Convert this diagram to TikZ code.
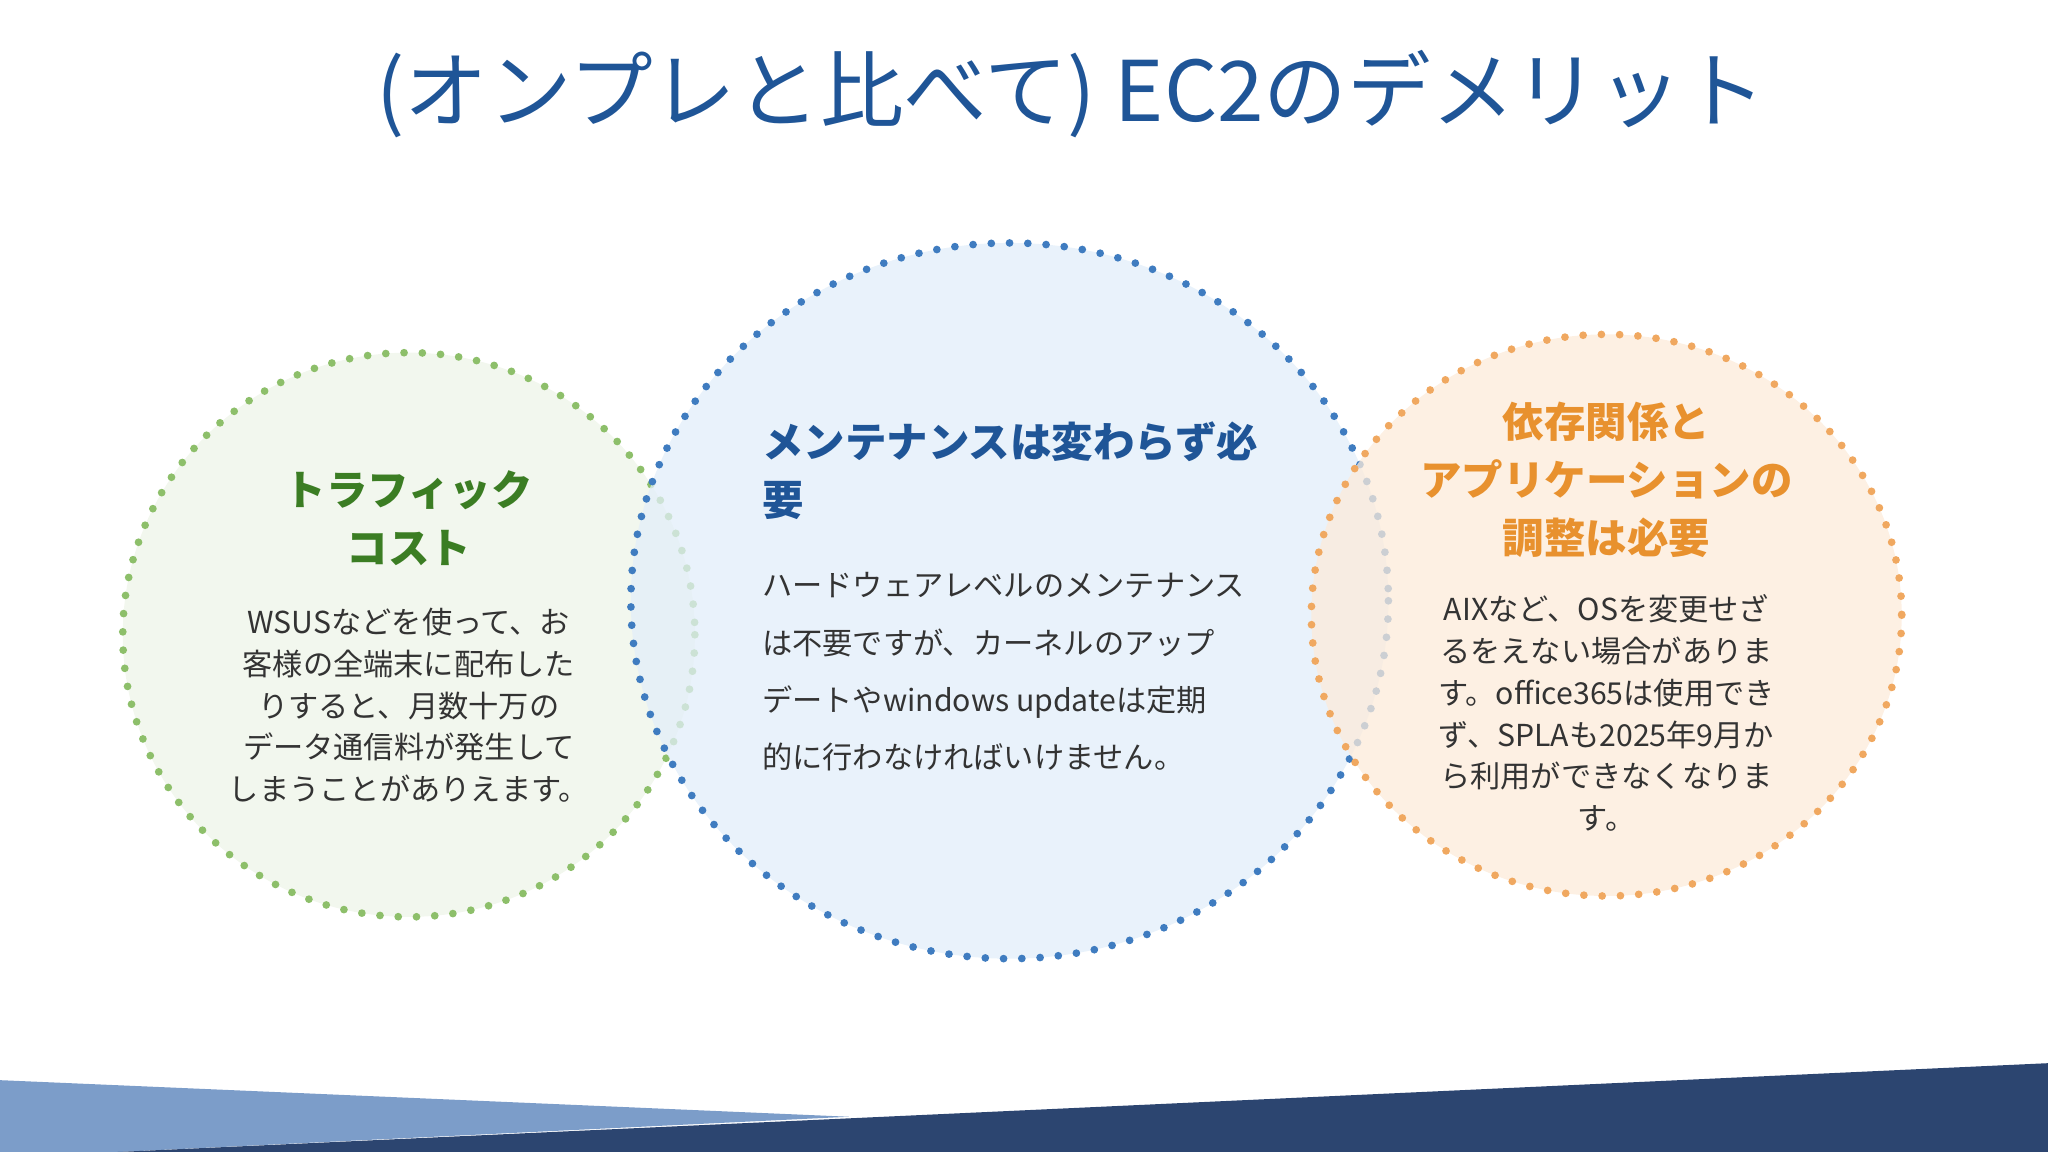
\documentclass[tikz,border=0pt]{standalone}
\usepackage{fontspec}
\setmainfont{Noto Sans CJK JP}
\definecolor{ttl}{HTML}{1F5597}
\definecolor{gfill}{HTML}{EEF4E8}
\definecolor{gline}{HTML}{8DBF6A}
\definecolor{gtxt}{HTML}{3B7D23}
\definecolor{bfill}{HTML}{E2EEF9}
\definecolor{bline}{HTML}{3F7CC0}
\definecolor{ofill}{HTML}{FCEBDA}
\definecolor{oline}{HTML}{F0A860}
\definecolor{otxt}{HTML}{E8912E}
\definecolor{body}{HTML}{333333}
\definecolor{band1}{HTML}{7C9DC9}
\definecolor{band2}{HTML}{2C4570}
\begin{document}
\begin{tikzpicture}[x=0.013061cm,y=-0.013061cm,
  bub/.style={line width=2.2pt,dash pattern=on 0pt off 5.2pt,line cap=round,fill opacity=0.75},
  bodytxt/.style={font=\fontsize{8.6}{11.9}\selectfont,text=body,inner sep=0pt},
  headtxt/.style={font=\fontsize{11.8}{16.5}\selectfont\bfseries,inner sep=0pt}]
\useasboundingbox (0,0) rectangle (1568,882);
\fill[band1] (0,827) -- (650,855) -- (90,882) -- (0,882) -- cycle;
\fill[band2] (90,882) -- (1568,814) -- (1568,882) -- cycle;
\node[font=\fontsize{23.8}{28}\selectfont,text=ttl,inner sep=0pt] (title) at (820,72) {(オンプレと比べて) EC2のデメリット};
\draw[bub,draw=gline,fill=gfill] (313,486) ellipse [x radius=219,y radius=216];
\draw[bub,draw=bline,fill=bfill] (773,460) ellipse [x radius=290,y radius=274];
\draw[bub,draw=oline,fill=ofill] (1230,471) ellipse [x radius=226,y radius=215];
\node[headtxt,text=gtxt,align=center] (gh) at (313,397) {トラフィック\\コスト};
\node[bodytxt,align=center] (gb) at (313,540) {WSUSなどを使って、お\\客様の全端末に配布した\\りすると、月数十万の\\データ通信料が発生して\\しまうことがありえます。};
\node[headtxt,text=ttl,align=left,anchor=north west] (bh) at (583,322) {メンテナンスは変わらず必\\要};
\node[bodytxt,align=left,anchor=north west,font=\fontsize{8.6}{16.3}\selectfont] (bb) at (583,438) {ハードウェアレベルのメンテナンス\\は不要ですが、カーネルのアップ\\デートやwindows updateは定期\\的に行わなければいけません。};
\node[headtxt,text=otxt,align=center] (oh) at (1230,367) {依存関係と\\アプリケーションの\\調整は必要};
\node[bodytxt,align=center] (ob) at (1230,546) {AIXなど、OSを変更せざ\\るをえない場合がありま\\す。office365は使用でき\\ず、SPLAも2025年9月か\\ら利用ができなくなりま\\す。};
\end{tikzpicture}
\end{document}
